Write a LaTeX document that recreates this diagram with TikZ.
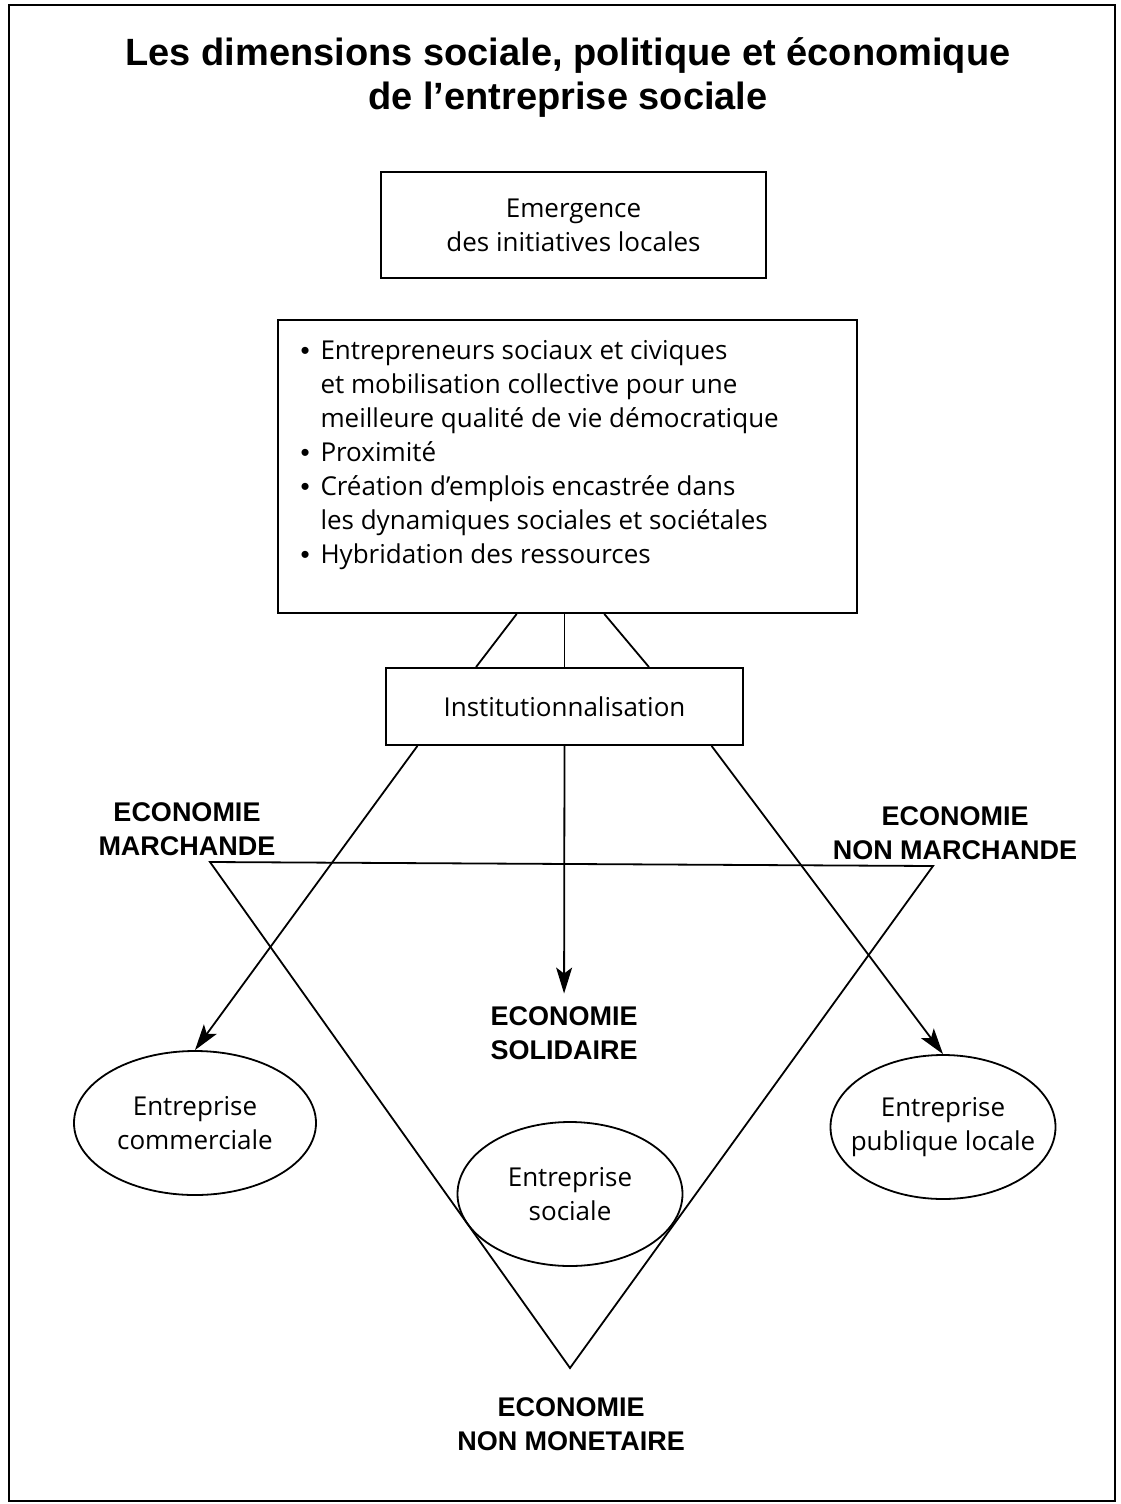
\documentclass[tikz,border=0pt]{standalone}
\usepackage{fontspec}
\setmainfont{Open Sans}
\newfontfamily\headfont{Liberation Sans}
\usetikzlibrary{arrows.meta,positioning,shapes.geometric}
\setlength\parindent{0pt}
\newcommand\puce{\makebox[10pt][l]{\headfont\textbullet}}

\begin{document}
\begin{tikzpicture}[
  x=0.5pt, y=-0.5pt,
  font=\fontsize{13}{17}\selectfont,
  line width=0.9pt,
  box/.style={draw, align=center, inner sep=0pt},
  eco/.style={ellipse, draw, align=center, inner sep=0pt, minimum height=72pt},
  lab/.style={font=\headfont\bfseries\fontsize{13.5}{17}\selectfont, align=center},
  arr/.style={-{Stealth[length=13pt,width=8pt,inset=3pt]}}
]
  \useasboundingbox (0,0) rectangle (1120,1504);
  \draw (9,5) rectangle (1115,1501);

  \node[font=\headfont\bfseries\fontsize{19}{22}\selectfont, align=center] (title) at (568,78)
    {Les dimensions sociale, politique et économique\\de l’entreprise sociale};

  \node[box, minimum width=192.5pt, minimum height=53pt] (emerg) at (573.5,225) {Emergence\\des initiatives locales};
  \node[box, minimum width=289.5pt, minimum height=146.5pt] (traits) at (567.5,466.5) {%
    \begin{minipage}[c][126pt][t]{267pt}
      \puce Entrepreneurs sociaux et civiques\\
      \hspace*{10pt}et mobilisation collective pour une\\
      \hspace*{10pt}meilleure qualité de vie démocratique\\
      \puce Proximité\\
      \puce Création d’emplois encastrée dans\\
      \hspace*{10pt}les dynamiques sociales et sociétales\\
      \puce Hybridation des ressources
    \end{minipage}};
  \node[box, minimum width=178.5pt, minimum height=38.5pt] (inst) at (564.5,706.5) {Institutionnalisation};

  \node[lab] (marche) at (187,829) {ECONOMIE\\MARCHANDE};
  \node[lab] (nonmarche) at (955,833) {ECONOMIE\\NON MARCHANDE};
  \node[lab, inner sep=6pt] (soli) at (564,1033) {ECONOMIE\\SOLIDAIRE};
  \node[lab] (nonmon) at (571,1424) {ECONOMIE\\NON MONETAIRE};

  \coordinate (mL) at (210,862);
  \coordinate (mR) at (933,866);
  \coordinate (mB) at (570,1368);
  \draw (mL) -- (mR) -- (mB) -- cycle;

  \node[eco, minimum width=121pt] (comm) at (195,1123) {Entreprise\\commerciale};
  \node[eco, minimum width=112.5pt] (soc) at (570,1194) {Entreprise\\sociale};
  \node[eco, minimum width=112.5pt, inner xsep=-8pt] (publ) at (943,1127) {Entreprise\\publique locale};

  \draw (traits.251) -- (inst.156);
  \draw (inst.north) -- (inst.north |- traits.south);
  \draw (traits.284) -- (inst.25);
  \draw[arr] (inst.195) -- (comm.north);
  \draw[arr] (inst.south) -- (soli);
  \draw[arr] (inst.345) -- (publ.north);
\end{tikzpicture}
\end{document}
